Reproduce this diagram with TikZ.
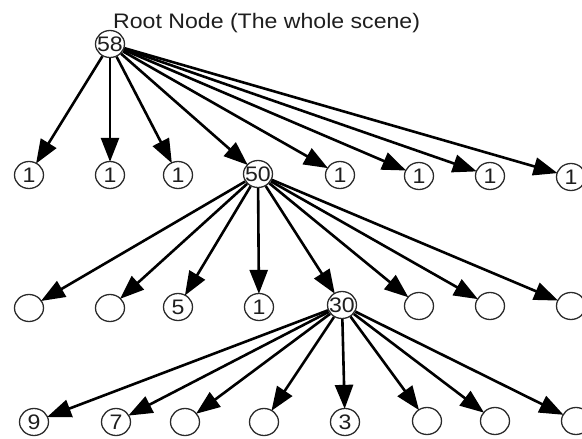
\documentclass[tikz,border=0pt]{standalone}
\usepackage{fontspec}
\setmainfont{Liberation Sans}[FakeStretch=1.1]
\usetikzlibrary{shapes.geometric,arrows.meta}
\definecolor{circ}{HTML}{2A2A2A}
\definecolor{txt}{HTML}{1E1E1E}
\tikzset{
  nd/.style={shape=ellipse, draw=circ, line width=1.3pt, minimum width=29pt, minimum height=27pt,
    inner sep=0pt, text=txt, font=\fontsize{21}{22}\selectfont},
  arr/.style={line width=2.6pt, -{Triangle[length=24pt,width=18pt]}, shorten >=-1pt}
}
\newcommand{\lbl}[1]{\makebox[0pt][c]{#1}}
\begin{document}
\begin{tikzpicture}[x=1pt,y=-1pt]
\useasboundingbox (0,0) rectangle (582,439);
\node[anchor=base west, text=txt, inner sep=0pt, font=\fontsize{21}{24}\selectfont] (title) at (113,28) {Root Node (The whole scene)};
\node[nd] (r) at (110,44) {\lbl{58}};
% level 1
\node[nd] (a1) at (29,175) {\lbl{1}};
\node[nd] (a2) at (110,175) {\lbl{1}};
\node[nd] (a3) at (178,175) {\lbl{1}};
\node[nd] (m) at (258,174) {\lbl{50}};
\node[nd] (a5) at (340,175) {\lbl{1}};
\node[nd] (a6) at (419,176) {\lbl{1}};
\node[nd] (a7) at (490,176) {\lbl{1}};
\node[nd] (a8) at (571,177) {\lbl{1}};
% level 2
\node[nd] (b1) at (29,308) {};
\node[nd] (b2) at (110,308) {};
\node[nd] (b3) at (178,307) {\lbl{5}};
\node[nd] (b4) at (259,307) {\lbl{1}};
\node[nd] (s) at (342,305) {\lbl{30}};
\node[nd] (b6) at (419,306) {};
\node[nd] (b7) at (490,306) {};
\node[nd] (b8) at (571,306) {};
% level 3
\node[nd] (c1) at (34,422) {\lbl{9}};
\node[nd] (c2) at (116,422) {\lbl{7}};
\node[nd] (c3) at (185,422) {};
\node[nd] (c4) at (264,422) {};
\node[nd] (c5) at (345,422) {\lbl{3}};
\node[nd] (c6) at (427,421) {};
\node[nd] (c7) at (495,421) {};
\node[nd] (c8) at (576,421) {};
% arrows
\foreach \t in {a1,a2,a3,m,a5,a6,a7,a8} \draw[arr] (r) -- (\t);
\foreach \t in {b1,b2,b3,b4,s,b6,b7,b8} \draw[arr] (m) -- (\t);
\foreach \t in {c1,c2,c3,c4,c5,c6,c7,c8} \draw[arr] (s) -- (\t);
\end{tikzpicture}
\end{document}
